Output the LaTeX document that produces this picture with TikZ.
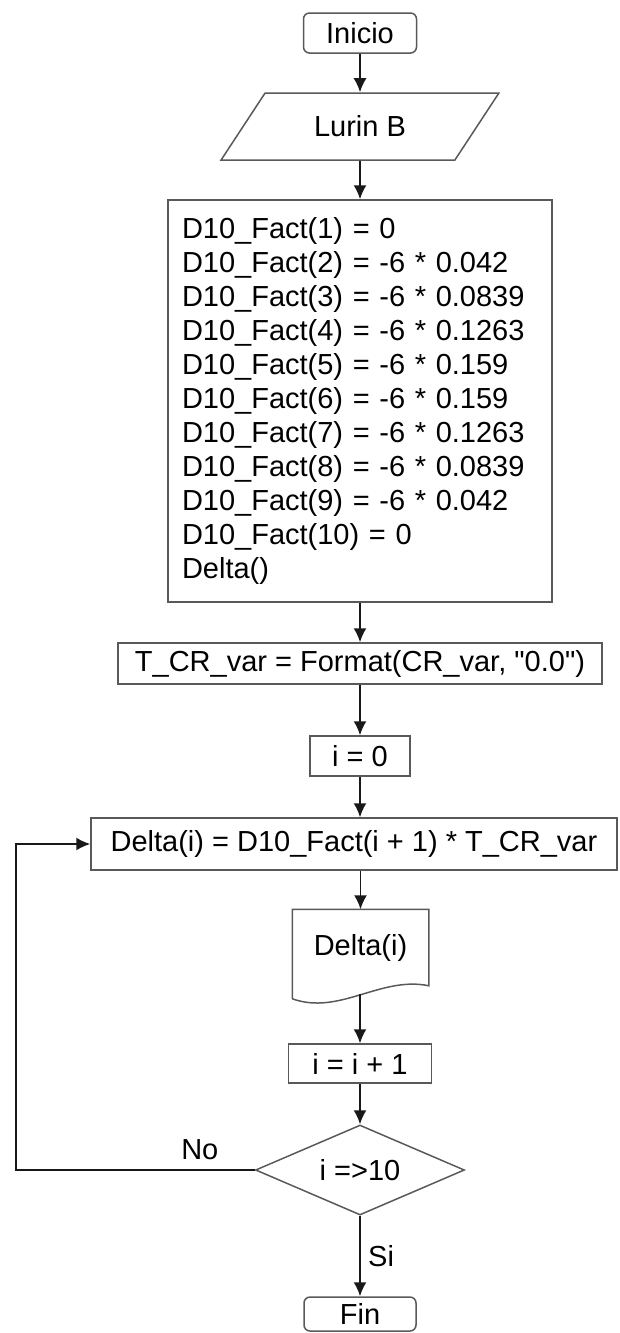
\documentclass[tikz,border=0pt]{standalone}
\usepackage{fontspec}
\setmainfont{Liberation Sans}[Ligatures=TeXOff]
\usetikzlibrary{shapes.geometric,arrows.meta,positioning}
\colorlet{boxgray}{black!65}

\begin{document}
\begin{tikzpicture}[x=1pt,y=-1pt,line width=1.5pt,font=\fontsize{29}{34}\selectfont]
    \tikzstyle{block}=[rectangle,draw=boxgray,inner sep=0pt]
    \tikzstyle{terminal}=[block,rounded corners=6pt]
    \tikzstyle{io}=[trapezium,trapezium left angle=45,trapezium right angle=135,
        trapezium stretches,draw=boxgray,minimum width=278pt,minimum height=67pt,inner sep=0pt]
    \tikzstyle{decision}=[diamond,aspect=2.3,draw=boxgray,minimum width=209pt,
        minimum height=90pt,inner sep=0pt]
    \tikzstyle{line}=[draw=black!90,line width=1.7pt,-{Latex[length=14pt,width=13pt]}]

    \useasboundingbox (0,0) rectangle (619,1333);

    % Draw the start and the input
    \node[terminal,minimum width=113pt,minimum height=40pt] (start) at (360,33) {Inicio};
    \node[io] (lurin) at (360,126.5) {Lurin B};

    % Draw the blocks before the loop
    \node[block,minimum width=384pt,minimum height=402pt,text width=356pt,align=left] (fact) at (360,401)
        {D10\_Fact(1) = 0\\
         D10\_Fact(2) = -6 * 0.042\\
         D10\_Fact(3) = -6 * 0.0839\\
         D10\_Fact(4) = -6 * 0.1263\\
         D10\_Fact(5) = -6 * 0.159\\
         D10\_Fact(6) = -6 * 0.159\\
         D10\_Fact(7) = -6 * 0.1263\\
         D10\_Fact(8) = -6 * 0.0839\\
         D10\_Fact(9) = -6 * 0.042\\
         D10\_Fact(10) = 0\\
         Delta()};
    \node[block,minimum width=484pt,minimum height=41pt] (tcr) at (360,663.5)
        {T\_CR\_var = Format(CR\_var, "0.0")};
    \node[block,minimum width=100pt,minimum height=40pt] (init) at (360,756) {i = 0};

    % Draw the loop body
    \node[block,minimum width=526pt,minimum height=52pt] (delta) at (354,844) {Delta(i) = D10\_Fact(i + 1) * T\_CR\_var};
    \node[minimum width=135pt,minimum height=75pt,inner sep=0pt] (out) at (360.5,947.5) {Delta(i)};
    \draw[draw=boxgray] ([yshift=-13pt]out.south west) -- (out.north west) -- (out.north east)
        -- (out.south east) .. controls +(-48,-10) and +(47,17) .. ([yshift=-13pt]out.south west);
    \coordinate (out-b) at (360,994);
    \node[block,minimum width=143pt,minimum height=39pt] (inc) at (360,1063.5) {i = i + 1};
    \node[decision] (test) at (360,1170) {i =>10};
    \node[terminal,minimum width=112pt,minimum height=34pt] (stop) at (360,1314) {Fin};
    \coordinate (back) at (16,1170);

    % Connect the nodes
    \path[line] (start) -- (lurin);
    \path[line] (lurin) -- (fact);
    \path[line] (fact) -- (tcr);
    \path[line] (tcr) -- (init);
    \path[line] (init) -- (init |- delta.north);
    \path[line] (out |- delta.south) -- (out.north);
    \path[line] (out-b) -- (inc);
    \path[line] (inc) -- (test);
    \path[line] (test) -- node[right=4pt] {Si} (stop);
    \path[line] (test.west) -- node[pos=0.23,above=6pt] {No} (back) |- (delta.west);
\end{tikzpicture}
\end{document}
